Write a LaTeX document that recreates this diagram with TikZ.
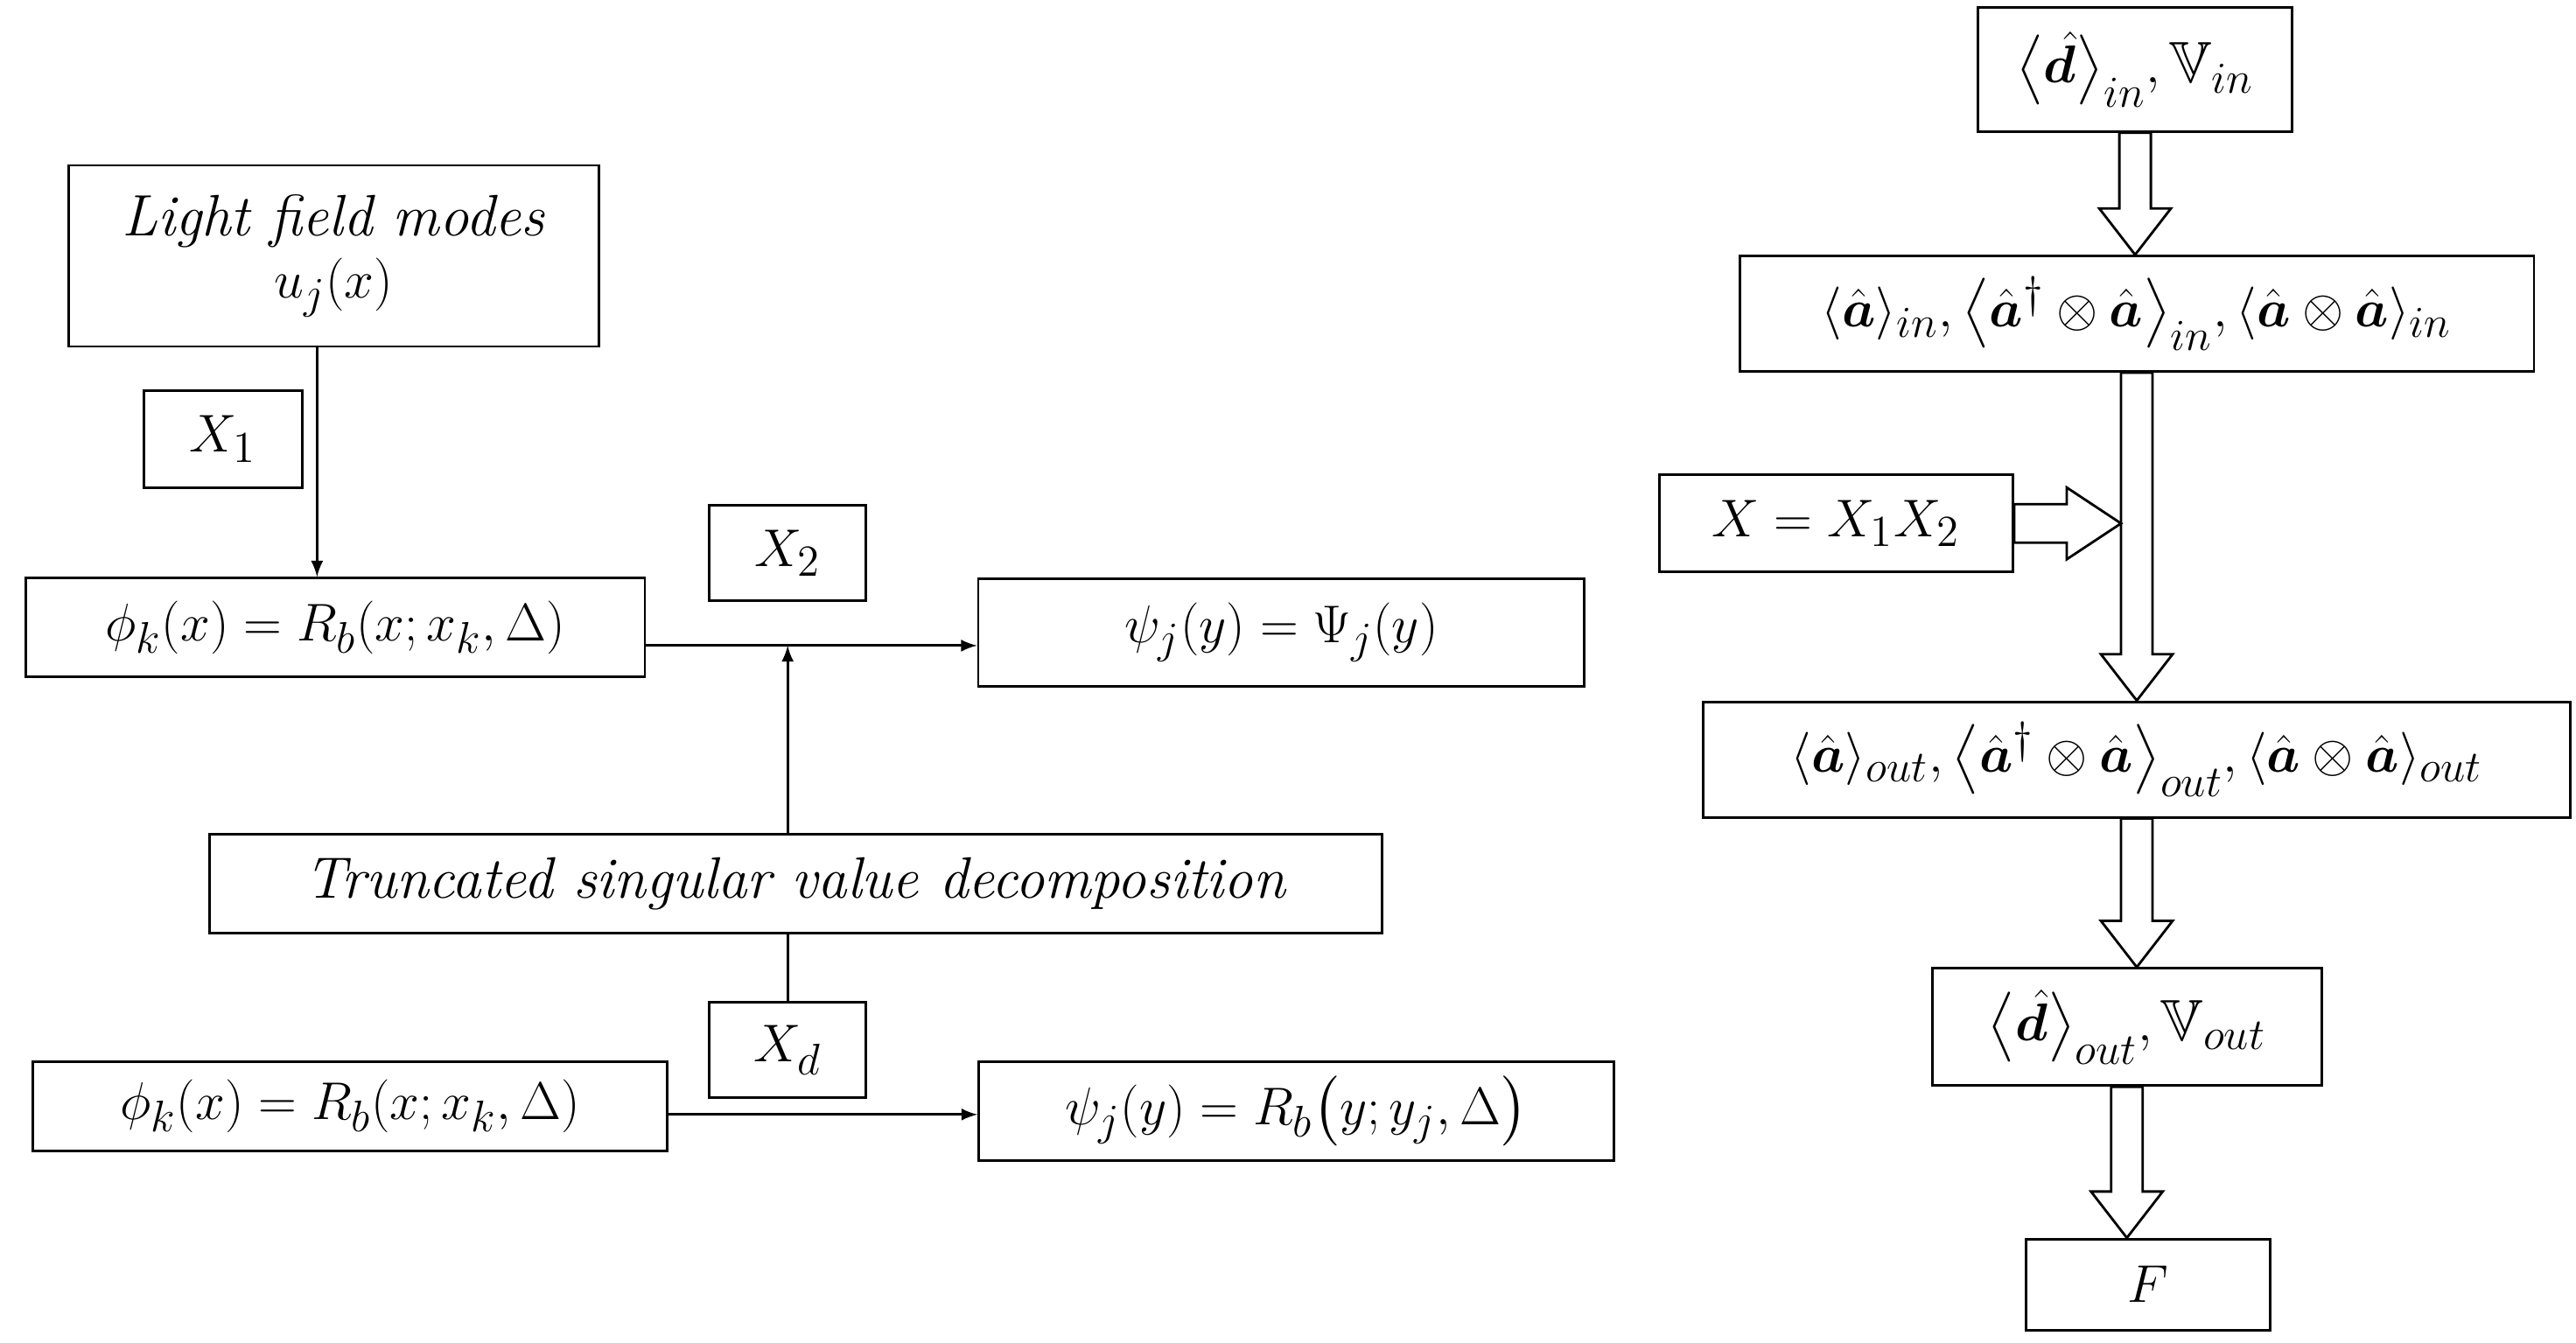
\documentclass[tikz,border=0pt]{standalone}
\usepackage{amsmath,amssymb,bm}
\usetikzlibrary{calc}
\tikzset{
  box/.style={draw,thick,inner sep=2pt,font=\fontsize{19}{22}\selectfont},
  hol/.style={draw,thick,fill=white},
  line/.style={thick},
  arr/.style={thick,-latex}
}
\newcommand{\hollowdown}[2]{%
  \draw[hol] let \p1=(#1.south), \p2=(#2.north) in
    (\x1-0.18cm,\y1) -- (\x1-0.18cm,\y2+0.53cm) -- (\x1-0.41cm,\y2+0.53cm) -- (\x1,\y2)
    -- (\x1+0.41cm,\y2+0.53cm) -- (\x1+0.18cm,\y2+0.53cm) -- (\x1+0.18cm,\y1) -- cycle;}
\newcommand{\ha}{\hat{\bm a}}
\begin{document}
\begin{tikzpicture}[x=0.01887cm,y=-0.01887cm]
  \useasboundingbox (0,0) rectangle (1560,813);
  % left part
  \node[box,minimum width=6.06cm,align=center,minimum height=2.07cm] (light) at (202,155) {\textit{Light field modes}\\[-2pt] $u_j(x)$};
  \node[box,minimum width=1.81cm,minimum height=1.11cm] (x1) at (135,266) {$X_1$};
  \node[box,minimum width=7.08cm,minimum height=1.13cm] (phia) at (203,380) {$\phi_k(x)=R_b(x;x_k,\Delta)$};
  \node[box,minimum width=1.79cm,minimum height=1.09cm] (x2) at (477,335) {$X_2$};
  \node[box,minimum width=6.93cm,minimum height=1.23cm] (psia) at (776,383) {$\psi_j(y)=\Psi_j(y)$};
  \node[box,minimum width=13.4cm,minimum height=1.13cm] (tsvd) at (482,535) {\textit{Truncated singular value decomposition}};
  \node[box,minimum width=1.79cm,minimum height=1.09cm] (xd) at (477,636) {$X_d$};
  \node[box,minimum width=7.25cm,minimum height=1.02cm] (phib) at (212,670) {$\phi_k(x)=R_b(x;x_k,\Delta)$};
  \node[box,minimum width=7.26cm,minimum height=1.13cm] (psib) at (785,673) {$\psi_j(y)=R_b\bigl(y;y_j,\Delta\bigr)$};
  \coordinate (ja) at (477,391);
  \draw[arr] (light.south -| 192,0) -- (phia.north -| 192,0);
  \draw[arr] (phia.east |- 0,391) -- (psia.west |- 0,391);
  \draw[arr] (tsvd.north -| ja) -- (ja);
  \draw[line] (tsvd.south -| xd) -- (xd.north);
  \draw[arr] (phib.east |- 0,675) -- (psib.west |- 0,675);
  % right part
  \node[box,minimum width=3.59cm,minimum height=1.42cm] (din) at (1293,42) {$\bigl\langle\hat{\bm d}\bigr\rangle_{in},\mathbb{V}_{in}$};
  \node[box,minimum width=9.08cm,minimum height=1.32cm] (ain) at (1294,190) {$\langle\ha\rangle_{in},\bigl\langle\ha^\dagger\otimes\ha\bigr\rangle_{in},\langle\ha\otimes\ha\rangle_{in}$};
  \node[box,minimum width=4.04cm,minimum height=1.11cm] (xx) at (1112,317) {$X=X_1X_2$};
  \node[box,minimum width=9.91cm,minimum height=1.32cm] (aout) at (1294,460) {$\langle\ha\rangle_{out},\bigl\langle\ha^\dagger\otimes\ha\bigr\rangle_{out},\langle\ha\otimes\ha\rangle_{out}$};
  \node[box,minimum width=4.45cm,minimum height=1.34cm] (dout) at (1288,622) {$\bigl\langle\hat{\bm d}\bigr\rangle_{out},\mathbb{V}_{out}$};
  \node[box,minimum width=2.79cm,minimum height=1.04cm] (ff) at (1301,778) {$F$};
  \hollowdown{din}{ain}
  \hollowdown{ain}{aout}
  \hollowdown{aout}{dout}
  \hollowdown{dout}{ff}
  \draw[hol] let \p1=(xx.east), \p2=(ain.south) in
    (\x1,\y1+0.22cm) -- (\x2-0.18cm-0.62cm,\y1+0.22cm) -- (\x2-0.18cm-0.62cm,\y1+0.41cm) -- (\x2-0.18cm,\y1)
    -- (\x2-0.18cm-0.62cm,\y1-0.41cm) -- (\x2-0.18cm-0.62cm,\y1-0.22cm) -- (\x1,\y1-0.22cm) -- cycle;
\end{tikzpicture}
\end{document}
